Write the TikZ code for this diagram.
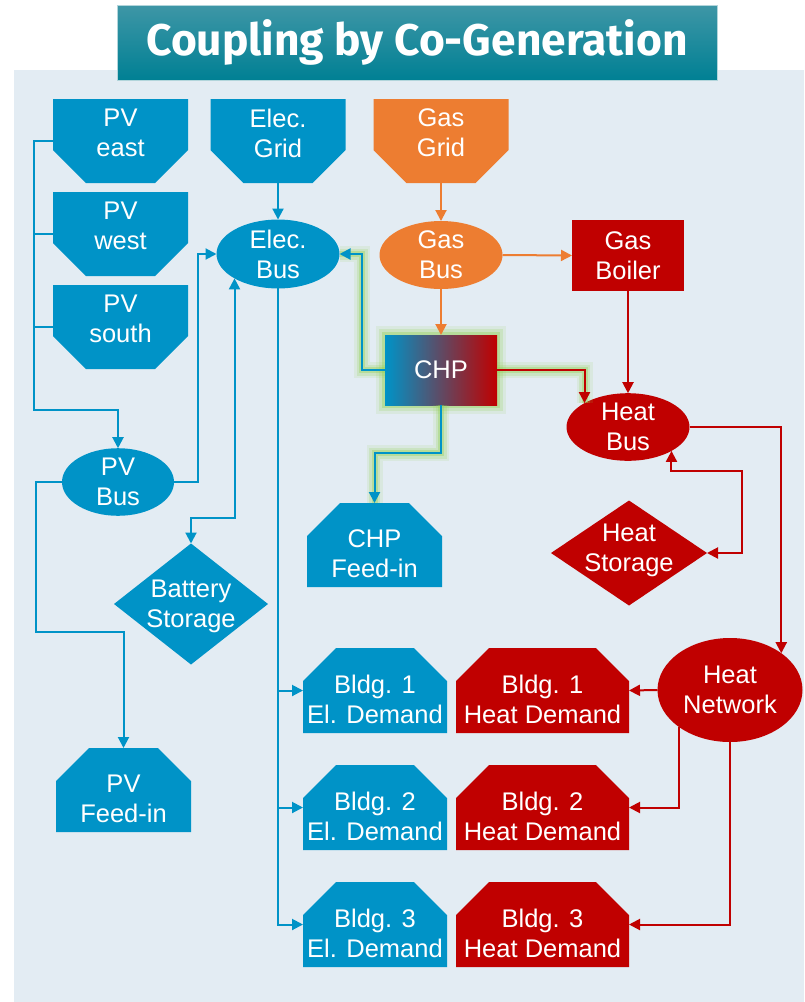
\documentclass[tikz,border=0pt]{standalone}
\usepackage{fontspec}
\setmainfont{Liberation Sans}
\newfontfamily\titlefont{Fira Sans}
\usetikzlibrary{arrows.meta,shapes.geometric}

\definecolor{elecblue}{RGB}{0,147,199}
\definecolor{gasorange}{RGB}{237,125,49}
\definecolor{heatred}{RGB}{192,0,0}
\definecolor{panelgray}{RGB}{227,236,243}
\definecolor{glowgreen}{RGB}{146,208,80}
\definecolor{titletop}{RGB}{62,150,166}
\definecolor{titlebot}{RGB}{0,128,148}

\tikzset{
  base/.style={text=white,align=center,inner sep=0pt,outer sep=0pt,
    font=\fontsize{25.5}{30}\selectfont},
  % chamfered bottom corners (sources)
  inbox/.style={base,rectangle,minimum width=135pt,minimum height=84pt,text depth=16pt,
    path picture={\fill[#1] (path picture bounding box.north west)
      -- (path picture bounding box.north east)
      -- ([yshift=33pt]path picture bounding box.south east)
      -- ([xshift=-33pt]path picture bounding box.south east)
      -- ([xshift=33pt]path picture bounding box.south west)
      -- ([yshift=33pt]path picture bounding box.south west) -- cycle;}},
  % chamfered top corners (sinks)
  outbox/.style={base,rectangle,minimum width=135pt,minimum height=84pt,text height=66pt,
    path picture={\fill[#1] (path picture bounding box.south west)
      -- (path picture bounding box.south east)
      -- ([yshift=-33pt]path picture bounding box.north east)
      -- ([xshift=-33pt]path picture bounding box.north east)
      -- ([xshift=33pt]path picture bounding box.north west)
      -- ([yshift=-33pt]path picture bounding box.north west) -- cycle;}},
  busnode/.style={base,fill=#1,ellipse,minimum width=123pt,minimum height=67pt},
  plant/.style={base,fill=#1,rectangle,minimum width=112pt,minimum height=71pt},
  storebox/.style={base,fill=#1,diamond},
  wire/.style={line width=2pt,draw=#1},
  glow/.style={preaction={draw=glowgreen,line width=16pt,opacity=0.12,arrows=-},
    preaction={draw=glowgreen,line width=11pt,opacity=0.2,arrows=-},
    preaction={draw=glowgreen,line width=6pt,opacity=0.35,arrows=-}},
}

\begin{document}
\begin{tikzpicture}[x=1pt,y=-1pt,>={Triangle[length=11pt,width=11pt]}]
  \useasboundingbox (0,0) rectangle (804,1002);
  % panel and title
  \fill[panelgray] (14,70) rectangle (804,1002);
  \node (title) at (417,42.5) [draw=white!60!titletop,line width=0.8pt,
    top color=titletop,bottom color=titlebot,minimum width=600pt,
    minimum height=75pt,inner sep=0pt,text=white]
    {\resizebox{541pt}{!}{\titlefont\bfseries Coupling by Co-Generation}};

  % sources
  \node[inbox=elecblue] (pveast) at (120.5,141) {PV\\east};
  \node[inbox=elecblue] (pvwest) at (120.5,234) {PV\\west};
  \node[inbox=elecblue] (pvsouth) at (120.5,327) {PV\\south};
  \node[inbox=elecblue] (elecgrid) at (278,141) {Elec.\\Grid};
  \node[inbox=gasorange] (gasgrid) at (441,141) {Gas\\Grid};

  % buses and converters
  \node[busnode=elecblue] (elecbus) at (278,254) {Elec.\\Bus};
  \node[busnode=gasorange] (gasbus) at (441,255) {Gas\\Bus};
  \node[plant=heatred] (gasboiler) at (628,255.5) {Gas\\Boiler};
  \node[base,minimum width=112pt,minimum height=70pt,left color=elecblue,
    right color=heatred,preaction={draw=glowgreen,line width=18pt,opacity=0.12},
    preaction={draw=glowgreen,line width=12pt,opacity=0.2},
    preaction={draw=glowgreen,line width=6pt,opacity=0.35}] (chp) at (441,370) {CHP};
  \node[busnode=heatred] (heatbus) at (628,427) {Heat\\Bus};
  \node[busnode=elecblue,minimum width=112pt,minimum height=66pt] (pvbus) at (118,482) {PV\\Bus};
  \node[busnode=heatred,minimum width=145pt,minimum height=104pt] (heatnet) at (730,690) {Heat\\Network};

  % storages
  \node[storebox=elecblue,minimum width=154pt,minimum height=121pt,text depth=-10pt] (batt) at (191,604)
    {\makebox[0pt]{Battery}\\\makebox[0pt]{Storage}};
  \node[storebox=heatred,minimum width=156pt,minimum height=105pt,text depth=10pt] (hstore) at (629,553)
    {\makebox[0pt]{Heat}\\\makebox[0pt]{Storage}};

  % sinks
  \node[outbox=elecblue] (chpfeed) at (374.5,545) {CHP\\Feed-in};
  \node[outbox=elecblue] (pvfeed) at (123.5,790) {PV\\Feed-in};
  \foreach \i/\y in {1/690.5,2/807.5,3/924.5}{
    \node[outbox=elecblue,minimum width=144pt,minimum height=85pt] (el\i) at (375,\y)
      {Bldg. \i\\El. Demand};
    \node[outbox=heatred,minimum width=173pt,minimum height=85pt] (heat\i) at (542.5,\y)
      {Bldg. \i\\Heat Demand};
  }

  % turning points
  \coordinate (pvturn) at (34,410);
  \coordinate (pvup) at (198,482);
  \coordinate (pvdown) at (36,632);
  \coordinate (battturn) at (191,518);
  \coordinate (chpleft) at (362,370);
  \coordinate (chpdown) at (441,453);
  \coordinate (hsturn) at (742,471);

  % electricity
  \draw[wire=elecblue,->] (pveast.west) -| (pvturn) -| (pvbus.north);
  \draw[wire=elecblue] (pvwest.west) -- (pvwest.west -| pvturn);
  \draw[wire=elecblue] (pvsouth.west) -- (pvsouth.west -| pvturn);
  \draw[wire=elecblue,->] (pvbus.east) -- (pvup) |- (elecbus.west);
  \draw[wire=elecblue,->] (pvbus.west) -| (pvdown) -| (pvfeed.north);
  \draw[wire=elecblue,<->] (elecbus.south west) |- (battturn) -- (batt.north);
  \draw[wire=elecblue,->] (elecgrid.south) -- (elecbus.north);
  \foreach \i in {1,2,3}
    \draw[wire=elecblue,->] (elecbus.south) |- (el\i.west);
  \draw[wire=elecblue,glow,->] (chp.west) -- (chpleft) |- (elecbus.east);
  \draw[wire=elecblue,glow,->] (chp.south) -- (chpdown) -| (chpfeed.north);

  % gas
  \draw[wire=gasorange,->] (gasgrid.south) -- (gasbus.north);
  \draw[wire=gasorange,->] (gasbus.east) -- (gasboiler.west);
  \draw[wire=gasorange,->] (gasbus.south) -- (chp.north);

  % heat
  \draw[wire=heatred,glow,->] (chp.east) -| (heatbus.north west);
  \draw[wire=heatred,->] (gasboiler.south) -- (heatbus.north);
  \draw[wire=heatred,->] (heatbus.east) -| (heatnet.north east);
  \draw[wire=heatred,<->] (heatbus.south east) |- (hsturn) |- (hstore.east);
  \draw[wire=heatred,->] (heatnet.west) -- (heat1.east);
  \draw[wire=heatred,->] (heatnet.south west) |- (heat2.east);
  \draw[wire=heatred,->] (heatnet.south) |- (heat3.east);
\end{tikzpicture}
\end{document}
